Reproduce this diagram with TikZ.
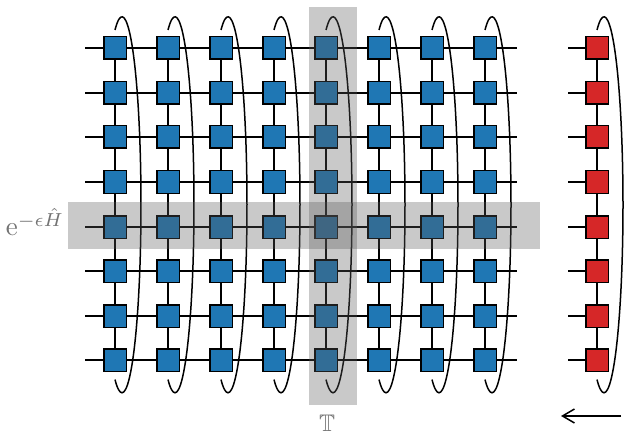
\documentclass[tikz,border=0pt]{standalone}
\usepackage{amssymb}
\usetikzlibrary{arrows.meta}
\definecolor{tblue}{RGB}{31,119,180}
\definecolor{tred}{RGB}{214,39,40}
\definecolor{bandgray}{RGB}{90,90,90}
\definecolor{labgray}{RGB}{115,115,115}
\tikzset{
  sq/.style={draw=black, line width=1.5pt, minimum size=22.5pt, inner sep=0pt, outer sep=0pt},
  bsq/.style={sq, fill=tblue},
  rsq/.style={sq, fill=tred},
  leg/.style={line width=1.7pt, black},
  loopline/.style={line width=1.5pt, black},
  band/.style={fill=bandgray, fill opacity=0.33, draw=none},
  lab/.style={text=labgray, inner sep=0pt}
}
\begin{document}
\begin{tikzpicture}[x=1pt,y=-1pt]
\useasboundingbox (0,0) rectangle (624,433);
% loops (behind everything)
\foreach \cx in {115,168,221,274,326,379,432,485,597}{
  \draw[loopline] (\cx,30) arc[start angle=248.4, end angle=471.6, x radius=19, y radius=188];
}
% squares
\foreach \yy [count=\jj from 0] in {48,93,137,182,227,271,316,360}{
  \coordinate (L\jj) at (85,\yy);
  \coordinate (R\jj) at (517,\yy);
  \coordinate (RL\jj) at (568,\yy);
  \foreach \xx [count=\ii from 0] in {115,168,221,274,326,379,432,485}{
    \node[bsq] (s\ii-\jj) at (\xx,\yy) {};
  }
  \node[rsq] (r\jj) at (597,\yy) {};
}
% legs
\foreach \j in {0,...,7}{
  \draw[leg] (L\j) -- (s0-\j.west);
  \foreach \i [evaluate=\i as \n using int(\i+1)] in {0,...,6}{
    \draw[leg] (s\i-\j.east) -- (s\n-\j.west);
  }
  \draw[leg] (s7-\j.east) -- (R\j);
  \draw[leg] (RL\j) -- (r\j.west);
}
\foreach \j [evaluate=\j as \n using int(\j+1)] in {0,...,6}{
  \foreach \i in {0,...,7}{
    \draw[leg] (s\i-\j.south) -- (s\i-\n.north);
  }
  \draw[leg] (r\j.south) -- (r\n.north);
}
% bands
\fill[band] (309,7) rectangle (357,405);
\fill[band] (68,202) rectangle (540,249);
% labels
\node[lab] (eh) at (35,222) {\scalebox{2.7}{$\mathrm{e}^{-\epsilon\hat{H}}$}};
\node[lab] (TT) at (327,423) {\scalebox{2.4}{$\mathbb{T}$}};
% arrow
\coordinate (a1) at (621,416);
\coordinate (a0) at (561,416);
\draw[line width=1.5pt, -{Straight Barb[length=12pt,width=14pt,line width=1.5pt]}] (a1) -- (a0);
\end{tikzpicture}
\end{document}
